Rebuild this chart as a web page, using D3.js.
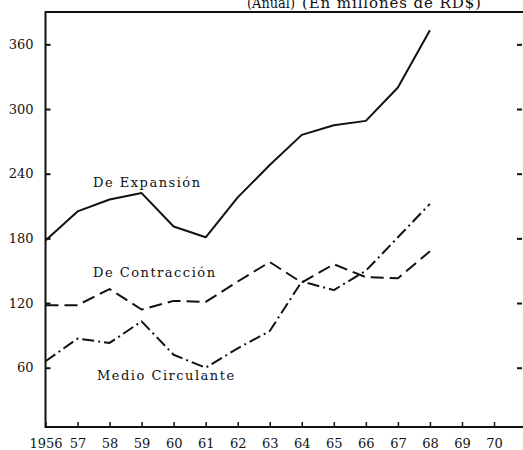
<!DOCTYPE html>
<html>
<head>
<meta charset="utf-8">
<script src="https://cdn.jsdelivr.net/npm/d3@7"></script>
<style>
  body { margin: 0; background: #fff; }
  svg { display: block; }
  text { font-family: "DejaVu Serif", "Liberation Serif", serif; fill: #111; }
</style>
</head>
<body>
<div id="chart"></div>
<script>
var years = [1956, 1957, 1958, 1959, 1960, 1961, 1962, 1963, 1964, 1965, 1966, 1967, 1968];
var expansion = [178, 205, 216, 222, 191, 181, 218, 248, 276, 285, 289, 320, 373];
var contraccion = [118, 118, 133, 114, 122, 121, 140, 158, 139, 156, 144, 143, 168];
var medioCirculante = [66, 87, 83, 103, 72, 60, 78, 94, 140, 132, 150, 181, 212];
var yTicks = [60, 120, 180, 240, 300, 360];
var xTicks = [1956, 1957, 1958, 1959, 1960, 1961, 1962, 1963, 1964, 1965, 1966, 1967, 1968, 1969, 1970];

var width = 523;
var height = 450;

var svg = d3.select('#chart')
    .append('svg')
    .attr('width', width)
    .attr('height', height);

var x = d3.scaleLinear().domain([1956, 1970]).range([45.5, 494]);
var y = d3.scaleLinear().domain([5, 390]).range([427, 12]);

// frame: top, left, bottom
svg.append('path')
    .attr('d', 'M523,12H45.5V427H523')
    .attr('fill', 'none')
    .attr('stroke', '#111')
    .attr('stroke-width', 2);

// title (partly cut by the top edge, as in the scan)
svg.append('text').attr('x', 247).attr('y', 8)
    .attr('textLength', 48).attr('lengthAdjust', 'spacingAndGlyphs')
    .style('font-size', '15px').text('(Anual)');
svg.append('text').attr('x', 302).attr('y', 8)
    .style('font-size', '15px').style('letter-spacing', '0.9px')
    .text('(En millones de RD$)');

// left axis
var yAxis = svg.append('g')
    .attr('transform', 'translate(45.5,0)')
    .call(d3.axisLeft(y).tickValues(yTicks).tickSize(-5).tickPadding(12));
yAxis.select('.domain').remove();
yAxis.selectAll('line').attr('stroke', '#111').attr('stroke-width', 2);
yAxis.selectAll('text').style('font-size', '13px').style('font-family', '"DejaVu Serif", serif').attr('fill', '#111');

// right ticks
var yAxisR = svg.append('g')
    .attr('transform', 'translate(522,0)')
    .call(d3.axisLeft(y).tickValues(yTicks).tickSize(5).tickFormat(''));
yAxisR.select('.domain').remove();
yAxisR.selectAll('line').attr('stroke', '#111').attr('stroke-width', 2);

// bottom axis
var xAxis = svg.append('g')
    .attr('transform', 'translate(0,427)')
    .call(d3.axisBottom(x).tickValues(xTicks).tickSize(-5).tickPadding(12)
        .tickFormat(function (d) { return d === 1956 ? '1956' : String(d).slice(2); }));
xAxis.select('.domain').remove();
xAxis.selectAll('line').attr('stroke', '#111').attr('stroke-width', 1.5);
xAxis.selectAll('text').style('font-size', '13px').style('font-family', '"DejaVu Serif", serif').attr('fill', '#111');

var line = d3.line()
    .x(function (d) { return x(d[0]); })
    .y(function (d) { return y(d[1]); });

var series = [
    { values: expansion, dash: null },
    { values: contraccion, dash: '13,6' },
    { values: medioCirculante, dash: '12,4,2,4' }
];

series.forEach(function (s) {
    svg.append('path')
        .datum(years.map(function (yr, i) { return [yr, s.values[i]]; }))
        .attr('d', line)
        .attr('fill', 'none')
        .attr('stroke', '#111')
        .attr('stroke-width', 2)
        .attr('stroke-linejoin', 'round')
        .attr('stroke-dasharray', s.dash);
});

// series labels
var labels = [
    { text: 'De Expansión', x: 93, y: 187 },
    { text: 'De Contracción', x: 93, y: 277 },
    { text: 'Medio Circulante', x: 97, y: 380 }
];
svg.selectAll('.lbl')
    .data(labels)
    .enter().append('text')
    .attr('class', 'lbl')
    .attr('x', function (d) { return d.x; })
    .attr('y', function (d) { return d.y; })
    .style('font-size', '13px')
    .style('letter-spacing', '1.5px')
    .text(function (d) { return d.text; });
</script>
</body>
</html>
